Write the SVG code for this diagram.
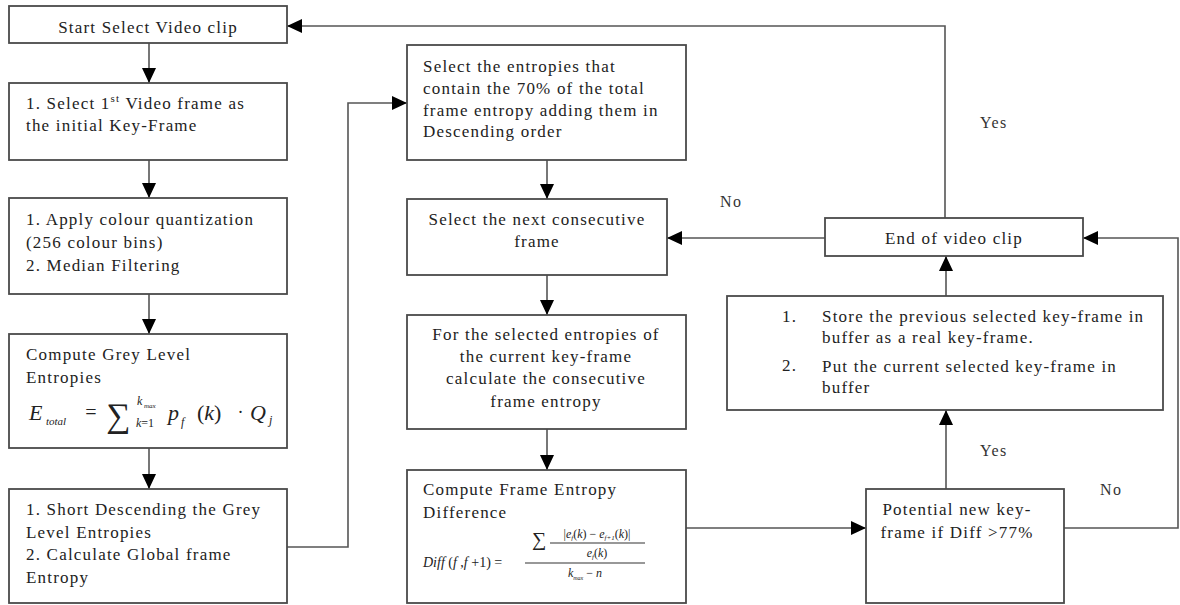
<svg xmlns="http://www.w3.org/2000/svg" width="1180" height="605" viewBox="0 0 1180 605">
<defs>
<marker id="ah" markerUnits="userSpaceOnUse" markerWidth="16" markerHeight="14" refX="15" refY="7" orient="auto">
<path d="M0,0 L15,7 L0,14 z" fill="#000"/>
</marker>
<style>
.box{fill:#fff;stroke:#4a4a4a;stroke-width:1.8}
.con{fill:none;stroke:#555;stroke-width:1.6}
.t{font-family:"Liberation Serif",serif;font-size:17px;letter-spacing:1.2px;fill:#222}
.c{text-anchor:middle}
.m{font-family:"Liberation Serif",serif;font-style:italic;fill:#222}
.lbl{font-family:"Liberation Serif",serif;font-size:16px;letter-spacing:1.5px;fill:#333}
</style>
</defs>
<rect width="1180" height="605" fill="#fff"/>

<g id="connectors">
<path class="con" d="M149,43 V83" marker-end="url(#ah)"/>
<path class="con" d="M149,160 V198" marker-end="url(#ah)"/>
<path class="con" d="M149,294 V334" marker-end="url(#ah)"/>
<path class="con" d="M149,448 V489" marker-end="url(#ah)"/>
<path class="con" d="M287,547 H348 V103 H407" marker-end="url(#ah)"/>
<path class="con" d="M547,160 V199" marker-end="url(#ah)"/>
<path class="con" d="M547,275 V315" marker-end="url(#ah)"/>
<path class="con" d="M547,429 V470" marker-end="url(#ah)"/>
<path class="con" d="M686,528 H866" marker-end="url(#ah)"/>
<path class="con" d="M946,489 V410" marker-end="url(#ah)"/>
<path class="con" d="M946,296 V256" marker-end="url(#ah)"/>
<path class="con" d="M825,238 H667" marker-end="url(#ah)"/>
<path class="con" d="M945,218 V26 H287" marker-end="url(#ah)"/>
<path class="con" d="M1064,528 H1178 V238 H1083" marker-end="url(#ah)"/>
<text class="lbl" x="980" y="128">Yes</text>
<text class="lbl" x="720" y="207">No</text>
<text class="lbl" x="980" y="456">Yes</text>
<text class="lbl" x="1100" y="495">No</text>
</g>

<g id="start">
<rect class="box" x="9" y="6" width="278" height="37"/>
<text class="t c" x="148" y="33">Start Select Video clip</text>
</g>

<g id="first-frame">
<rect class="box" x="9" y="83" width="278" height="77"/>
<text class="t" x="26" y="109">1. Select 1<tspan font-size="11" dy="-7">st</tspan><tspan dy="7"> Video frame as</tspan></text>
<text class="t" x="26" y="131">the initial Key-Frame</text>
</g>

<g id="quantization">
<rect class="box" x="9" y="198" width="278" height="96"/>
<text class="t" x="26" y="225">1. Apply colour quantization</text>
<text class="t" x="26" y="248">(256 colour bins)</text>
<text class="t" x="26" y="271">2. Median Filtering</text>
</g>

<g id="grey-entropies">
<rect class="box" x="9" y="334" width="278" height="114"/>
<text class="t" x="26" y="360">Compute Grey Level</text>
<text class="t" x="26" y="383">Entropies</text>
<text class="m" x="29" y="420" font-size="22">E</text>
<text class="m" x="46" y="425" font-size="11">total</text>
<text class="m" x="84" y="419" font-size="20" font-style="normal">=</text>
<text class="m" x="106" y="427" font-size="34" font-style="normal">∑</text>
<text class="m" x="137" y="405" font-size="12">k</text>
<text class="m" x="144" y="408" font-size="7">max</text>
<text class="m" x="136" y="427" font-size="12">k<tspan font-style="normal">=1</tspan></text>
<text class="m" x="168" y="420" font-size="22">p</text>
<text class="m" x="181" y="426" font-size="12">f</text>
<text class="m" x="197" y="420" font-size="22"><tspan font-style="normal">(</tspan>k<tspan font-style="normal">)</tspan></text>
<text class="m" x="238" y="418" font-size="18" font-style="normal">·</text>
<text class="m" x="250" y="420" font-size="22">Q</text>
<text class="m" x="269" y="424" font-size="12">j</text>
</g>

<g id="sort-descending">
<rect class="box" x="9" y="489" width="278" height="114"/>
<text class="t" x="26" y="515">1. Short Descending the Grey</text>
<text class="t" x="26" y="538">Level Entropies</text>
<text class="t" x="26" y="560">2. Calculate Global frame</text>
<text class="t" x="26" y="583">Entropy</text>
</g>

<g id="select-entropies">
<rect class="box" x="407" y="45" width="279" height="115"/>
<text class="t" x="423" y="72">Select the entropies that</text>
<text class="t" x="423" y="94">contain the 70% of the total</text>
<text class="t" x="423" y="116">frame entropy adding them in</text>
<text class="t" x="423" y="137">Descending order</text>
</g>

<g id="next-frame">
<rect class="box" x="407" y="199" width="260" height="76"/>
<text class="t c" x="537" y="225">Select the next consecutive</text>
<text class="t c" x="537" y="247">frame</text>
</g>

<g id="consecutive-entropy">
<rect class="box" x="407" y="315" width="279" height="114"/>
<text class="t c" x="546" y="340">For the selected entropies of</text>
<text class="t c" x="546" y="362">the current key-frame</text>
<text class="t c" x="546" y="384">calculate the consecutive</text>
<text class="t c" x="546" y="407">frame entropy</text>
</g>

<g id="entropy-difference">
<rect class="box" x="407" y="470" width="279" height="133"/>
<text class="t" x="423" y="495">Compute Frame Entropy</text>
<text class="t" x="423" y="518">Difference</text>
<text class="m" x="423" y="567" font-size="14">Diff <tspan font-style="normal">(</tspan>f <tspan font-style="normal">,</tspan>f <tspan font-style="normal">+1) =</tspan></text>
<line x1="525" y1="563" x2="645" y2="563" stroke="#333" stroke-width="1.2"/>
<text class="m" x="532" y="546" font-size="20" font-style="normal">∑</text>
<line x1="550" y1="543" x2="645" y2="543" stroke="#333" stroke-width="1.2"/>
<text class="m" x="597" y="538" font-size="12" text-anchor="middle"><tspan font-style="normal">|</tspan>e<tspan font-size="7" dy="2">f</tspan><tspan dy="-2" font-style="normal">(</tspan>k<tspan font-style="normal">) − </tspan>e<tspan font-size="7" dy="2">f+1</tspan><tspan dy="-2" font-style="normal">(</tspan>k<tspan font-style="normal">)|</tspan></text>
<text class="m" x="597" y="557" font-size="12" text-anchor="middle">e<tspan font-size="7" dy="2">f</tspan><tspan dy="-2" font-style="normal">(</tspan>k<tspan font-style="normal">)</tspan></text>
<text class="m" x="585" y="577" font-size="12" text-anchor="middle">k<tspan font-size="6" dy="3">max</tspan><tspan dy="-3" font-style="normal"> − </tspan>n</text>
</g>

<g id="potential-keyframe">
<rect class="box" x="866" y="489" width="198" height="114"/>
<text class="t c" x="957" y="515">Potential new key-</text>
<text class="t c" x="957" y="538">frame if Diff &gt;77%</text>
</g>

<g id="store-keyframe">
<rect class="box" x="727" y="296" width="436" height="114"/>
<text class="t" x="782" y="322">1.</text>
<text class="t" x="822" y="322">Store the previous selected key-frame in</text>
<text class="t" x="822" y="343">buffer as a real key-frame.</text>
<text class="t" x="782" y="371" font-size="20">2.</text>
<text class="t" x="822" y="372">Put the current selected key-frame in</text>
<text class="t" x="822" y="393">buffer</text>
</g>

<g id="end-of-clip">
<rect class="box" x="825" y="218" width="258" height="38"/>
<text class="t c" x="954" y="244">End of video clip</text>
</g>
</svg>
